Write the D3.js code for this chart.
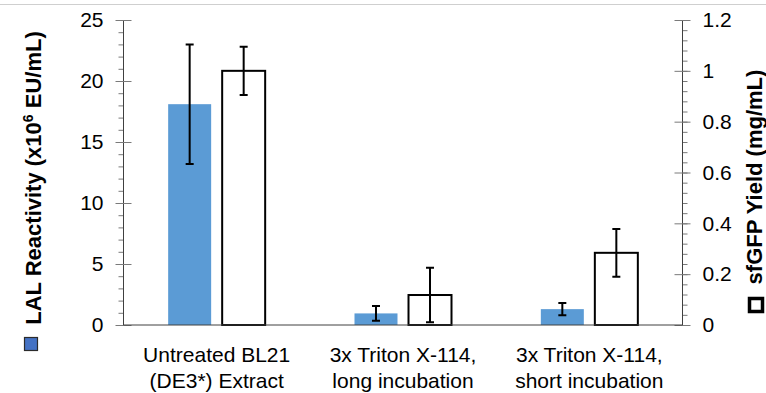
<!DOCTYPE html>
<html>
<head>
<meta charset="utf-8">
<script src="https://cdn.jsdelivr.net/npm/d3@7"></script>
<style>
  body { margin: 0; background: #fff; }
  text { font-family: "Liberation Sans", Arial, sans-serif; fill: #000; }
</style>
</head>
<body>
<div id="chart"></div>
<script>
// data
var categories = ["Untreated BL21|(DE3*) Extract", "3x Triton X-114,|long incubation", "3x Triton X-114,|short incubation"];
var lalValues = [18.1, 0.95, 1.3];
var lalErrors = [4.9, 0.6, 0.5];
var gfpValues = [1.0, 0.118, 0.284];
var gfpErrors = [0.095, 0.107, 0.094];
var leftTicks = [0, 5, 10, 15, 20, 25];
var rightTicks = [0, 0.2, 0.4, 0.6, 0.8, 1, 1.2];

var width = 766, height = 393;
var margin = {top: 20, right: 83.5, bottom: 68, left: 123.5};

var svg = d3.select("#chart")
  .append("svg")
  .attr("width", width)
  .attr("height", height);

// thin grey rule at the very top
svg.append("line")
  .attr("x1", 0).attr("x2", width)
  .attr("y1", 4.5).attr("y2", 4.5)
  .attr("stroke", "#cfcfcf")
  .attr("stroke-width", 1);

var x0 = d3.scaleBand()
  .domain(categories)
  .range([margin.left, width - margin.right])
  .padding(0);

var x1 = d3.scaleBand()
  .domain(["lal", "gfp"])
  .range([0, x0.bandwidth()])
  .paddingInner(0.204)
  .paddingOuter(0.827);

var yL = d3.scaleLinear().domain([0, 25]).range([height - margin.bottom, margin.top]);
var yR = d3.scaleLinear().domain([0, 1.2]).range([height - margin.bottom, margin.top]);

var rows = categories.map(function(c, i) {
  return {cat: c, lal: lalValues[i], lalErr: lalErrors[i], gfp: gfpValues[i], gfpErr: gfpErrors[i]};
});

// left axis: minor ticks then major ticks
var leftX = margin.left;
svg.append("g")
  .attr("transform", "translate(" + leftX + ",0)")
  .call(d3.axisLeft(yL).tickValues(d3.range(0, 26, 1)).tickSize(5).tickFormat(""))
  .call(g => g.select(".domain").remove())
  .selectAll("line").attr("stroke", "#7a7a7a");

var gL = svg.append("g")
  .attr("transform", "translate(" + leftX + ",0)")
  .call(d3.axisLeft(yL).tickValues(leftTicks).tickSize(8).tickPadding(12).tickFormat(d3.format("d")));
gL.select(".domain").attr("stroke", "#404040").attr("d", "M0," + yL(25) + "V" + yL(0));
gL.selectAll(".tick line").attr("x1", 8).attr("x2", -8).attr("stroke", "#7a7a7a");
gL.selectAll(".tick text").style("font-size", "21px").attr("fill", "#000").attr("font-family", null);

// right axis
var rightX = width - margin.right;
svg.append("g")
  .attr("transform", "translate(" + rightX + ",0)")
  .call(d3.axisRight(yR).tickValues(d3.range(0, 1.2001, 0.04)).tickSize(5).tickFormat(""))
  .call(g => g.select(".domain").remove())
  .selectAll("line").attr("stroke", "#7a7a7a");

var gR = svg.append("g")
  .attr("transform", "translate(" + rightX + ",0)")
  .call(d3.axisRight(yR).tickValues(rightTicks).tickSize(8).tickPadding(12).tickFormat(d => String(+d.toFixed(1))));
gR.select(".domain").attr("stroke", "#404040").attr("d", "M0," + yR(1.2) + "V" + yR(0));
gR.selectAll(".tick line").attr("x1", -8).attr("x2", 8).attr("stroke", "#7a7a7a");
gR.selectAll(".tick text").style("font-size", "21px").attr("fill", "#000").attr("font-family", null);

// bars
var groups = svg.selectAll(".grp")
  .data(rows)
  .enter().append("g")
  .attr("class", "grp")
  .attr("transform", d => "translate(" + x0(d.cat) + ",0)");

groups.append("rect")
  .attr("x", x1("lal"))
  .attr("width", x1.bandwidth())
  .attr("y", d => yL(d.lal))
  .attr("height", d => yL(0) - yL(d.lal))
  .attr("fill", "#5b9bd5");

groups.append("rect")
  .attr("x", x1("gfp"))
  .attr("width", x1.bandwidth())
  .attr("y", d => yR(d.gfp))
  .attr("height", d => yR(0) - yR(d.gfp))
  .attr("fill", "#fff")
  .attr("stroke", "#000")
  .attr("stroke-width", 2);

// baseline
svg.append("line")
  .attr("x1", leftX).attr("x2", rightX)
  .attr("y1", yL(0)).attr("y2", yL(0))
  .attr("stroke", "#404040")
  .attr("stroke-width", 1);

// error bars
function errBar(sel, key, scale) {
  var cx = x1(key) + x1.bandwidth() / 2;
  var cap = 4;
  sel.append("path")
    .attr("fill", "none")
    .attr("stroke", "#000")
    .attr("stroke-width", 2)
    .attr("d", function(d) {
      var lo = scale(d[key] - d[key + "Err"]), hi = scale(d[key] + d[key + "Err"]);
      return "M" + cx + "," + lo + "V" + hi +
        "M" + (cx - cap) + "," + hi + "H" + (cx + cap) +
        "M" + (cx - cap) + "," + lo + "H" + (cx + cap);
    });
}
errBar(groups, "lal", yL);
errBar(groups, "gfp", yR);

// category labels, two lines each
svg.selectAll(".cat")
  .data(categories)
  .enter().append("text")
  .attr("class", "cat")
  .attr("text-anchor", "middle")
  .style("font-size", "21px")
  .each(function(d) {
    var t = d3.select(this);
    var cx = x0(d) + x0.bandwidth() / 2;
    d.split("|").forEach(function(line, i) {
      t.append("tspan").attr("x", cx).attr("y", 362 + i * 26).text(line);
    });
  });

// left title with legend key
svg.append("rect")
  .attr("x", 24.5).attr("y", 337.5)
  .attr("width", 13).attr("height", 13)
  .attr("fill", "#4472c4")
  .attr("stroke", "#2b2b2b")
  .attr("stroke-width", 1.2);

var tl = svg.append("text")
  .attr("transform", "translate(41,178) rotate(-90)")
  .attr("text-anchor", "middle")
  .style("font-size", "22px")
  .style("font-weight", "bold");
tl.append("tspan").text("LAL Reactivity (x10");
tl.append("tspan").attr("dy", -8).style("font-size", "14px").text("6");
tl.append("tspan").attr("dy", 8).text(" EU/mL)");

// right title with legend key
svg.append("rect")
  .attr("x", 749.5).attr("y", 298.5)
  .attr("width", 13).attr("height", 13)
  .attr("fill", "#fff")
  .attr("stroke", "#000")
  .attr("stroke-width", 3.5);

svg.append("text")
  .attr("transform", "translate(762,177) rotate(-90)")
  .attr("text-anchor", "middle")
  .style("font-size", "22px")
  .style("font-weight", "bold")
  .text("sfGFP Yield (mg/mL)");
</script>
</body>
</html>
